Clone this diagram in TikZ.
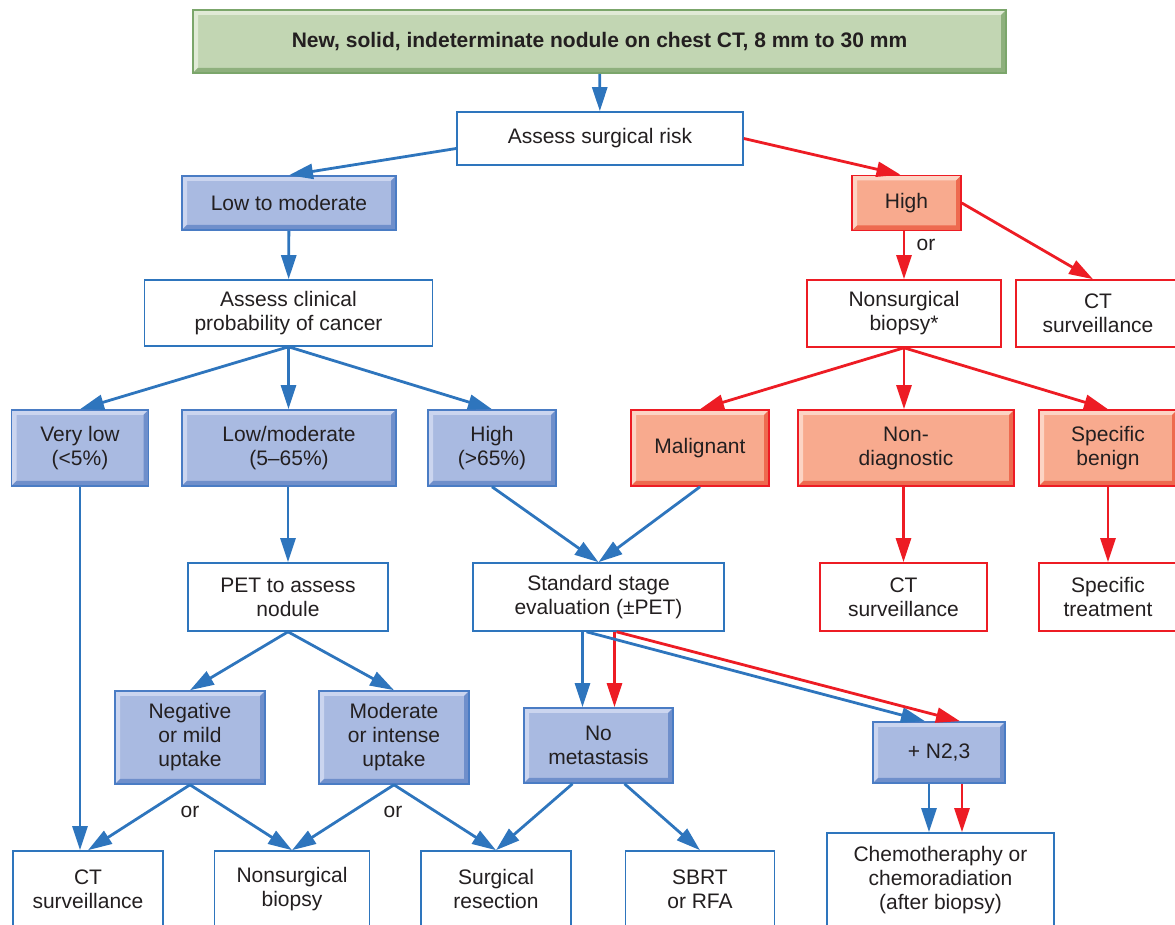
\documentclass[tikz,border=0pt]{standalone}
\usepackage{fontspec}
\setmainfont{Liberation Sans}
\usepackage{xcolor}
\usepackage{tikz}
\usetikzlibrary{arrows.meta}

\definecolor{lineblue}{HTML}{2E75BD}
\definecolor{linered}{HTML}{ED1C24}
\definecolor{edgeblue}{HTML}{4A7CC4}
\definecolor{fillblue}{HTML}{A9BAE1}
\definecolor{hiblue}{HTML}{CBD5EF}
\definecolor{loblue}{HTML}{6F8FCB}
\definecolor{fillred}{HTML}{F8AA8E}
\definecolor{hired}{HTML}{FCD4C4}
\definecolor{lored}{HTML}{EE6A4F}
\definecolor{edgegreen}{HTML}{7BA66B}
\definecolor{fillgreen}{HTML}{C2D6B3}
\definecolor{higreen}{HTML}{E0EAD6}
\definecolor{logreen}{HTML}{8EB07D}
\definecolor{textcol}{HTML}{231F20}

% raised look: light band top/left, dark band bottom/right
\tikzset{bevel/.style 2 args={path picture={
  \path (path picture bounding box.south west) coordinate (bsw)
        (path picture bounding box.north east) coordinate (bne);
  \fill[#1] (bsw) |- (bne) -- ++(-2.5pt,-2.5pt) -| ([shift={(2.5pt,2.5pt)}]bsw) -- cycle;
  \fill[#2] (bsw) -| (bne) -- ++(-2.5pt,-2.5pt) |- ([shift={(2.5pt,2.5pt)}]bsw) -- cycle;
}}}
\tikzset{wh/.style 2 args={minimum width=#1*0.5pt, minimum height=#2*0.5pt}}

\tikzstyle{wbox} = [rectangle, draw=lineblue, fill=white, line width=0.8pt, align=center, inner sep=1pt]
\tikzstyle{wboxr} = [wbox, draw=linered]
\tikzstyle{bbox} = [rectangle, draw=edgeblue, fill=fillblue, line width=0.8pt, align=center, inner sep=1pt, bevel={hiblue}{loblue}]
\tikzstyle{rbox} = [bbox, draw=linered, fill=fillred, bevel={hired}{lored}]
\tikzstyle{gbox} = [bbox, draw=edgegreen, fill=fillgreen, bevel={higreen}{logreen}, font=\fontsize{10.5}{12}\selectfont\bfseries]
\tikzstyle{barrow} = [lineblue, line width=1.4pt, -{Triangle[length=12pt,width=7.5pt]}]
\tikzstyle{rarrow} = [barrow, linered]

\begin{document}
\begin{tikzpicture}[x=0.5pt, y=-0.5pt, font=\fontsize{10.5}{12}\selectfont, text=textcol]
   \clip (0,0) rectangle (1175,925);
   % top of the tree
   \node (head) [gbox, wh={813}{63}] at (599.5,41.5) {New, solid, indeterminate nodule on chest CT, 8 mm to 30 mm};
   \node (risk) [wbox, wh={286}{53}] at (600,138.5) {Assess surgical risk};
   \node (low) [bbox, wh={214}{54}] at (289,203) {Low to moderate};
   \node (high) [rbox, wh={109}{55}] at (906.5,203) {High};
   \node (clin) [wbox, wh={288}{66}] at (288.5,313) {Assess clinical\\probability of cancer};
   \node (nsb) [wboxr, wh={194}{67}] at (904,313.5) {Nonsurgical\\biopsy*};
   \node (ctr) [wboxr, wh={164}{67}] at (1098,313.5) {CT\\surveillance};
   \node (or1) at (926,245) {or};
   % probability and biopsy results
   \node (vlow) [bbox, wh={137}{76}] at (80,448) {Very low\\(<5\%)};
   \node (lowmod) [bbox, wh={214}{76}] at (289,448) {Low/moderate\\(5--65\%)};
   \node (highp) [bbox, wh={128}{76}] at (492,448) {High\\(>65\%)};
   \node (malig) [rbox, wh={138}{76}] at (700,448) {Malignant};
   \node (nondiag) [rbox, wh={216}{76}] at (906,448) {Non-\\diagnostic};
   \node (benign) [rbox, wh={138}{76}] at (1108,448) {Specific\\benign};
   \node (pet) [wbox, wh={200}{68}] at (288,597) {PET to assess\\nodule};
   \node (std) [wbox, wh={251}{68}] at (598.5,597) {Standard stage\\evaluation (±PET)};
   \node (ctm) [wboxr, wh={167}{68}] at (903.5,597) {CT\\surveillance};
   \node (spec) [wboxr, wh={138}{68}] at (1108,597) {Specific\\treatment};
   % lower level
   \node (neg) [bbox, wh={150}{93}] at (190,737.5) {Negative\\or mild\\uptake};
   \node (mod) [bbox, wh={150}{93}] at (394,737.5) {Moderate\\or intense\\uptake};
   \node (nomet) [bbox, wh={149}{75}] at (598.5,745.5) {No\\metastasis};
   \node (n23) [bbox, wh={132}{61}] at (939,752.5) {+ N2,3};
   \node (or2) at (190,812) {or};
   \node (or3) at (393,812) {or};
   \node (ctb) [wbox, wh={150}{76}] at (88,889) {CT\\surveillance};
   \node (nsbb) [wbox, wh={155}{76}] at (292,889) {Nonsurgical\\biopsy};
   \node (surg) [wbox, wh={150}{76}] at (496,889) {Surgical\\resection};
   \node (sbrt) [wbox, wh={149}{76}] at (700,889) {SBRT\\or RFA};
   \node (chemo) [wbox, wh={227}{94}] at (940.5,880) {Chemotheraphy or\\chemoradiation\\(after biopsy)};
   % connectors
   \draw [barrow] (head) -- (risk);
   \draw [barrow] ([yshift=-5pt]risk.west) -- (low.north);
   \draw [rarrow] (risk.east) -- ([xshift=-3pt]high.north);
   \draw [rarrow] (high.east) -- ([xshift=-2.5pt]ctr.north);
   \draw [rarrow] (high.south -| nsb.north) -- (nsb.north);
   \draw [barrow] (low) -- (clin);
   \draw [barrow] (clin.south) -- (vlow.north);
   \draw [barrow] (clin.south) -- (clin.south |- lowmod.north);
   \draw [barrow] (clin.south) -- (highp.north);
   \draw [rarrow] (nsb.south) -- (malig.north);
   \draw [rarrow] (nsb.south) -- (nsb.south |- nondiag.north);
   \draw [rarrow] (nsb.south) -- (benign.north);
   \draw [rarrow] (nondiag.south -| ctm.north) -- (ctm.north);
   \draw [rarrow] (benign) -- (spec);
   \draw [barrow] (lowmod.south -| pet.north) -- (pet.north);
   \draw [barrow] (highp.south) -- (std.north);
   \draw [barrow] (malig.south) -- (std.north);
   \draw [barrow] (vlow.south) -- (vlow.south |- ctb.north);
   \draw [barrow] (pet.south) -- (neg.north);
   \draw [barrow] (pet.south) -- (mod.north);
   \draw [barrow] (neg.south) -- (ctb.north);
   \draw [barrow] (neg.south) -- (nsbb.north);
   \draw [barrow] (mod.south) -- (nsbb.north);
   \draw [barrow] (mod.south) -- (surg.north);
   \draw [barrow] ([xshift=-8pt]std.south) -- ([xshift=-8pt]std.south |- nomet.north);
   \draw [rarrow] ([xshift=8pt]std.south) -- ([xshift=8pt]std.south |- nomet.north);
   \draw [barrow] ([xshift=-6pt]std.south) -- ([xshift=-7pt]n23.north);
   \draw [rarrow] ([xshift=9pt]std.south) -- ([xshift=10.5pt]n23.north);
   \draw [barrow] ([xshift=-13pt]nomet.south) -- (surg.north);
   \draw [barrow] ([xshift=13pt]nomet.south) -- (sbrt.north);
   \draw [barrow] ([xshift=-5pt]n23.south) -- ([xshift=-5pt]n23.south |- chemo.north);
   \draw [rarrow] ([xshift=11.5pt]n23.south) -- ([xshift=11.5pt]n23.south |- chemo.north);
\end{tikzpicture}
\end{document}
